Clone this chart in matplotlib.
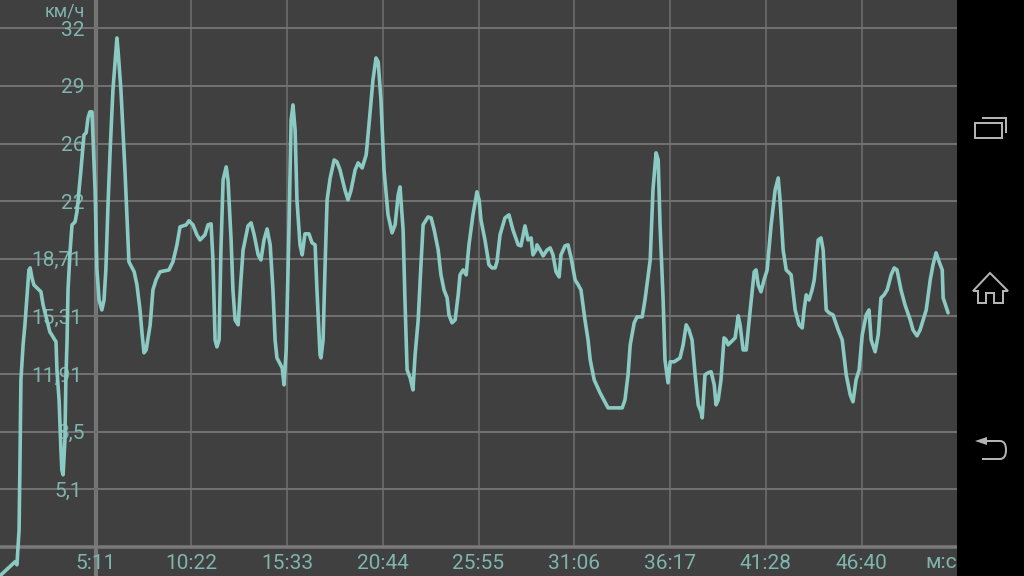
import matplotlib
matplotlib.use("Agg")
import matplotlib.pyplot as plt
from matplotlib.patches import Polygon, Rectangle, PathPatch
from matplotlib.path import Path

time_s = [0,49,55,62,65,68,75,81,94,98,104,110,133,140,162,182,185,192,198,201,205,211,214,218,221,228,234,244,250,254,263,273,280,286,292,299,309,315,322,331,338,344,351,358,367,377,380,384,393,406,413,419,436,445,455,462,468,475,488,497,507,520,549,562,575,585,605,614,627,640,650,666,676,686,692,699,705,712,718,725,735,741,751,757,764,774,783,790,806,816,826,839,848,858,868,878,887,894,900,917,923,930,939,946,952,959,965,975,982,991,1004,1014,1024,1030,1040,1043,1050,1056,1063,1073,1086,1095,1105,1121,1131,1141,1154,1164,1177,1190,1199,1212,1222,1229,1238,1248,1261,1274,1284,1294,1300,1310,1316,1323,1333,1342,1349,1359,1368,1375,1391,1401,1411,1424,1433,1443,1453,1459,1469,1479,1489,1495,1505,1515,1524,1537,1550,1557,1563,1576,1589,1599,1609,1615,1625,1641,1654,1667,1684,1693,1706,1716,1726,1732,1742,1745,1755,1765,1778,1788,1797,1807,1817,1823,1836,1846,1856,1869,1879,1888,1901,1911,1918,1931,1950,1976,2022,2031,2041,2048,2061,2070,2087,2096,2113,2122,2132,2139,2145,2155,2161,2171,2178,2191,2210,2220,2230,2239,2249,2259,2269,2278,2282,2291,2301,2311,2321,2327,2334,2343,2353,2360,2366,2382,2389,2399,2405,2415,2425,2438,2451,2457,2464,2473,2483,2493,2506,2519,2529,2535,2545,2555,2571,2584,2597,2607,2613,2620,2629,2639,2646,2659,2668,2675,2685,2694,2707,2724,2737,2750,2763,2772,2782,2792,2802,2815,2824,2831,2844,2854,2863,2873,2883,2896,2906,2915,2928,2941,2958,2967,2980,2990,3010,3023,3032,3042,3052,3062,3065,3081]
speed_kmh = [0,.83,.65,2.71,6.84,11.56,13.63,14.81,18.05,18.17,17.58,17.17,16.76,15.99,14.40,13.81,12.15,10.38,7.43,6.25,5.96,8.02,11.56,13.92,16.87,19.23,20.71,20.89,21.48,22.18,23.95,26.02,26.14,27.02,27.38,27.38,22.77,18.05,16.28,15.69,16.28,18.05,21.89,25.13,28.67,31.03,31.74,30.92,28.67,23.95,21.00,18.53,17.94,17.17,15.69,14.22,13.16,13.33,14.81,16.87,17.46,17.94,18.05,18.53,19.53,20.59,20.71,20.95,20.71,20.12,19.82,20.12,20.71,20.77,18.64,13.92,13.51,13.92,19.23,23.36,24.13,23.36,19.82,16.87,15.10,14.81,17.46,19.23,20.65,20.83,20.12,18.94,18.64,19.82,20.47,19.53,16.87,13.92,12.86,12.27,11.27,13.33,20.41,26.90,27.79,26.31,22.18,19.53,18.94,20.18,20.18,19.65,19.53,16.87,13.04,12.86,13.92,18.05,22.18,23.48,24.54,24.43,23.95,22.77,22.18,22.77,23.95,24.37,24.07,24.84,26.61,29.26,30.56,30.33,28.08,23.95,21.30,20.24,20.71,22.48,22.95,20.41,16.28,12.15,11.68,10.97,13.04,15.10,18.35,20.71,21.18,21.12,20.41,19.23,17.76,16.87,16.40,15.40,14.93,15.10,16.58,17.76,18.05,17.76,19.53,21.30,22.66,22.18,21.00,19.82,18.35,18.17,18.17,18.53,20.12,21.12,21.30,20.41,19.53,19.47,20.65,19.82,19.94,18.94,19.23,19.53,19.23,18.88,19.23,19.35,18.94,17.94,17.64,18.94,19.47,19.53,18.76,17.46,17.17,16.87,15.10,13.92,12.74,11.56,10.80,9.91,9.91,10.38,11.86,13.63,14.93,15.28,15.28,16.28,18.64,22.77,24.96,24.54,20.71,16.28,12.74,11.39,12.63,12.63,12.86,13.63,14.81,14.51,13.92,11.86,10.09,9.68,9.32,11.86,11.98,12.04,11.27,10.09,10.38,11.56,14.04,13.92,13.63,13.92,14.04,15.34,14.81,13.33,13.33,15.69,17.94,18.05,17.17,16.76,17.46,18.05,20.71,22.77,23.48,22.18,19.23,18.05,17.76,15.69,14.81,14.63,15.69,16.58,16.28,16.87,17.46,19.82,19.94,19.23,15.69,15.52,15.40,14.51,13.92,11.86,10.68,10.27,11.56,12.15,14.22,15.40,15.69,13.92,13.22,14.22,16.40,16.58,16.87,17.76,18.17,18.05,16.87,15.99,15.10,14.51,14.16,14.51,15.69,17.46,18.35,19.06,18.53,18.05,16.40,15.52]

y_ticks = [5.1, 8.5, 11.91, 15.31, 18.71, 22.11, 25.51, 28.91, 32.31]
y_labels = ["5,1", "8,5", "11,91", "15,31", "18,71", "22", "26", "29", "32"]
x_ticks = [311, 622, 933, 1244, 1555, 1866, 2177, 2488, 2800]
x_labels = ["5:11", "10:22", "15:33", "20:44", "25:55", "31:06", "36:17", "41:28", "46:40"]
y_unit = "км/ч"
x_unit = "м:с"

BG = "#404040"
GRID = "#707070"
LINE = "#8ACAC3"
TEXT = "#7FB5AF"
ICON = "#B4B4B4"
W, H = 1024, 576
PT = 72 / 100

plt.rcParams["font.family"] = ["Roboto", "DejaVu Sans"]
fig = plt.figure(figsize=(W / 100, H / 100), dpi=100, facecolor="black")

# dark strip under the plot area, left of the navigation bar
fig.add_artist(Rectangle((0, 0), 957 / W, 1, transform=fig.transFigure, facecolor=BG, edgecolor="none", zorder=-5))

ax = fig.add_axes([0, 29 / H, 957 / W, 547 / H], facecolor=BG)
ax.set_xlim(0, 3110)
ax.set_ylim(1.7, 33.98)

for side in ("top", "left", "right"):
    ax.spines[side].set_visible(False)
ax.spines["bottom"].set_color("#7A7A7A")
ax.spines["bottom"].set_linewidth(3.5 * PT)
ax.spines["bottom"].set_capstyle("butt")

ax.set_xticks(x_ticks, x_labels)
ax.set_yticks(y_ticks, y_labels)
ax.tick_params(axis="x", length=0, pad=5, labelsize=15, labelcolor=TEXT)
ax.tick_params(axis="y", length=0, labelsize=15, labelcolor=TEXT)
for tick, lab in zip(ax.yaxis.get_major_ticks(), y_labels):
    right_px = 82 if len(lab) == 5 or lab == "5,1" else 85
    tick.set_pad(-right_px * PT)
ax.grid(True, axis="y", color=GRID, linewidth=2 * PT)
ax.grid(True, axis="x", color=GRID, linewidth=1.5 * PT)
ax.set_axisbelow(True)

# thick cursor line at the first time tick, running to the screen edge
ax.axvline(x_ticks[0], ymin=-29 / 547, ymax=1, color="#7A7A7A", linewidth=4 * PT, clip_on=False, zorder=0.4)

ax.text(85 / 957, 1 - 11 / 547, y_unit, transform=ax.transAxes, ha="right", va="center", fontsize=13, color=TEXT)
ax.text(1.0, -16 / 547, x_unit, transform=ax.transAxes, ha="right", va="center", fontsize=15, color=TEXT)

ax.plot(time_s, speed_kmh, color=LINE, linewidth=2.6, solid_joinstyle="round", solid_capstyle="round", clip_on=False, zorder=3)

# Android navigation icons, in screen pixels
nav = fig.add_axes([0, 0, 1, 1], facecolor="none")
nav.set_xlim(0, W)
nav.set_ylim(H, 0)
nav.axis("off")
lw = 2 * PT
nav.add_patch(Rectangle((975, 123), 27, 15, fill=False, edgecolor=ICON, linewidth=lw))
nav.plot([983, 1006, 1006], [118, 118, 132], color=ICON, linewidth=lw, solid_joinstyle="miter")
nav.add_patch(Polygon([(990, 273), (973, 291), (978, 291), (978, 303), (986, 303), (986, 293),
                       (994, 293), (994, 303), (1003, 303), (1003, 291), (1008, 291)],
                      closed=True, fill=False, edgecolor=ICON, linewidth=lw, joinstyle="miter"))
nav.add_patch(Polygon([(975, 441), (987, 437), (987, 445)], closed=True, facecolor=ICON, edgecolor="none"))
back = Path([(985, 441), (1000, 441), (1006, 441), (1006, 450), (1006, 459), (1000, 459), (982, 459)],
            [Path.MOVETO, Path.LINETO, Path.CURVE3, Path.CURVE3, Path.CURVE3, Path.CURVE3, Path.LINETO])
nav.add_patch(PathPatch(back, fill=False, edgecolor=ICON, linewidth=lw))

fig.savefig("out.png", dpi=100, facecolor=fig.get_facecolor())
